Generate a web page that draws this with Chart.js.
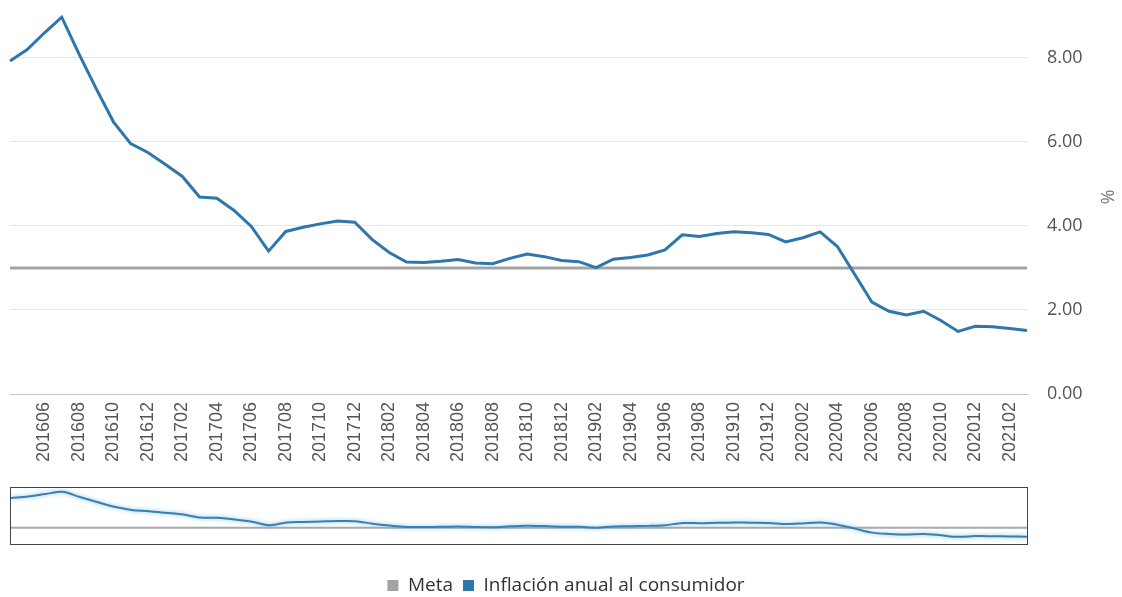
<!DOCTYPE html>
<html>
<head>
<meta charset="utf-8">
<script src="https://cdn.jsdelivr.net/npm/chart.js@4.4.1/dist/chart.umd.min.js"></script>
<style>
    html, body { margin: 0; padding: 0; background: #fff; }
    #wrap { position: relative; width: 1122px; height: 597px; }
    #nav {
        position: absolute; left: 10px; top: 487px;
        width: 1016px; height: 56px;
        border: 1px solid #444;
    }
</style>
</head>
<body>
<div id="wrap">
    <canvas id="mainCanvas" width="1122" height="597"></canvas>
    <div id="nav"><canvas id="navCanvas"></canvas></div>
</div>
<script>
// meses (AAAAMM)
const months = [
    '201604', '201605', '201606', '201607', '201608', '201609', '201610', '201611', '201612',
    '201701', '201702', '201703', '201704', '201705', '201706', '201707', '201708', '201709', '201710', '201711', '201712',
    '201801', '201802', '201803', '201804', '201805', '201806', '201807', '201808', '201809', '201810', '201811', '201812',
    '201901', '201902', '201903', '201904', '201905', '201906', '201907', '201908', '201909', '201910', '201911', '201912',
    '202001', '202002', '202003', '202004', '202005', '202006', '202007', '202008', '202009', '202010', '202011', '202012',
    '202101', '202102', '202103'
];

// inflación anual al consumidor (%)
const inflation = [
    7.93, 8.20, 8.60, 8.97, 8.10, 7.27, 6.48, 5.96, 5.75,
    5.47, 5.18, 4.69, 4.66, 4.37, 3.99, 3.40, 3.87, 3.97, 4.05, 4.12, 4.09,
    3.68, 3.37, 3.14, 3.13, 3.16, 3.20, 3.12, 3.10, 3.23, 3.33, 3.27, 3.18,
    3.15, 3.01, 3.21, 3.25, 3.31, 3.43, 3.79, 3.75, 3.82, 3.86, 3.84, 3.80,
    3.62, 3.72, 3.86, 3.51, 2.85, 2.19, 1.97, 1.88, 1.97, 1.75, 1.49, 1.61,
    1.60, 1.56, 1.51
];

// meta de inflación
const target = months.map(() => 3);

const yTicks = [0, 2, 4, 6, 8];

const BLUE = '#2f77aa';
const GREY = '#a3a3a3';

new Chart(document.getElementById('mainCanvas'), {
    type: 'line',
    data: {
        labels: months,
        datasets: [
            {
                label: 'Inflación anual al consumidor',
                data: inflation,
                borderColor: BLUE,
                backgroundColor: BLUE,
                borderWidth: 3,
                pointRadius: 0,
                tension: 0
            },
            {
                label: 'Meta',
                data: target,
                borderColor: GREY,
                backgroundColor: GREY,
                borderWidth: 3,
                pointRadius: 0,
                tension: 0
            }
        ]
    },
    options: {
        responsive: false,
        animation: false,
        layout: { padding: { left: 10, top: 0, right: 0, bottom: -8 } },
        plugins: {
            tooltip: { enabled: false },
            legend: {
                position: 'bottom',
                labels: {
                    boxWidth: 11,
                    boxHeight: 11,
                    padding: 10,
                    color: '#333',
                    font: { family: 'Open Sans', size: 19 },
                    generateLabels: chart => Chart.defaults.plugins.legend.labels
                        .generateLabels(chart)
                        .map(l => ({ ...l, lineWidth: 0 }))
                        .reverse()
                }
            }
        },
        scales: {
            x: {
                grid: { display: false, drawTicks: false },
                border: { color: '#c4c4c4', width: 1 },
                ticks: {
                    autoSkip: false,
                    maxRotation: 90,
                    minRotation: 90,
                    padding: 8,
                    color: '#555',
                    font: { family: 'Liberation Sans', size: 18 },
                    callback: (v, i) => (i > 0 && i % 2 === 0) ? months[i] : ''
                },
                afterFit: s => { s.height = 172; }
            },
            y: {
                position: 'right',
                min: 0,
                max: 9.38,
                afterBuildTicks: s => { s.ticks = yTicks.map(v => ({ value: v })); },
                grid: { color: '#e6e6e6', drawTicks: false },
                border: { display: false },
                ticks: {
                    padding: 20,
                    color: '#555',
                    font: { family: 'Open Sans', size: 18 },
                    callback: v => v.toFixed(2)
                },
                title: {
                    display: true,
                    text: '%',
                    color: '#777',
                    font: { family: 'Open Sans', size: 18 },
                    padding: { top: 5, bottom: 4 }
                },
                afterFit: s => {
                    s.width = 95;
                    s.paddingTop = 0;
                    s.paddingBottom = 0;
                }
            }
        }
    }
});

// navegador inferior
const glowPlugin = {
    id: 'glow',
    beforeDatasetDraw(chart, args) {
        if (args.index !== 0) return;
        chart.ctx.save();
        chart.ctx.shadowColor = 'rgba(110, 185, 235, 0.9)';
        chart.ctx.shadowBlur = 4;
    },
    afterDatasetDraw(chart, args) {
        if (args.index !== 0) return;
        chart.ctx.restore();
    }
};

new Chart(document.getElementById('navCanvas'), {
    type: 'line',
    data: {
        labels: months,
        datasets: [
            {
                data: inflation,
                borderColor: '#3a7fae',
                borderWidth: 2,
                pointRadius: 0,
                tension: 0.3
            },
            {
                data: target,
                borderColor: '#a8a8a8',
                borderWidth: 2,
                pointRadius: 0
            }
        ]
    },
    plugins: [glowPlugin],
    options: {
        responsive: true,
        maintainAspectRatio: false,
        animation: false,
        plugins: { legend: { display: false }, tooltip: { enabled: false } },
        scales: {
            x: { display: false },
            y: { display: false, min: 0.3, max: 9.6 }
        }
    }
});
</script>
</body>
</html>
